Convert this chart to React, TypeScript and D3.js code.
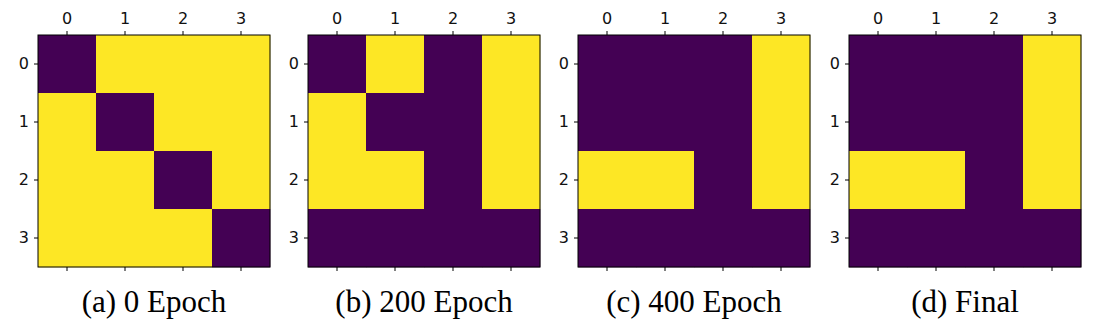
import React, { useRef, useEffect } from 'react'
import * as d3 from 'd3'

const indices = [0, 1, 2, 3]
const captions = ['(a) 0 Epoch', '(b) 200 Epoch', '(c) 400 Epoch', '(d) Final']

const epoch0 = [
  [0, 1, 1, 1],
  [1, 0, 1, 1],
  [1, 1, 0, 1],
  [1, 1, 1, 0],
]
const epoch200 = [
  [0, 1, 0, 1],
  [1, 0, 0, 1],
  [1, 1, 0, 1],
  [0, 0, 0, 0],
]
const epoch400 = [
  [0, 0, 0, 1],
  [0, 0, 0, 1],
  [1, 1, 0, 1],
  [0, 0, 0, 0],
]
const final = [
  [0, 0, 0, 1],
  [0, 0, 0, 1],
  [1, 1, 0, 1],
  [0, 0, 0, 0],
]
const matrices = [epoch0, epoch200, epoch400, final]

const App = () => {
  const svgRef = useRef<SVGSVGElement>(null)

  useEffect(() => {
    const svg = d3.select(svgRef.current)
    svg.selectAll('*').remove()

    const size = 232
    const top = 35
    const lefts = [38, 308, 578, 849]
    const font = 'DejaVu Sans'

    const color = d3.scaleSequential(d3.interpolateViridis).domain([0, 1])

    matrices.forEach((m, i) => {
      const g = svg.append('g').attr('transform', `translate(${lefts[i]},${top})`)

      const x = d3.scaleBand<number>().domain(indices).range([0, size])
      const y = d3.scaleBand<number>().domain(indices).range([0, size])

      // cells
      m.forEach((row, r) => {
        g.selectAll(null)
          .data(row)
          .enter().append('rect')
          .attr('x', (_, c) => x(c)!)
          .attr('y', y(r)!)
          .attr('width', x.bandwidth() + 0.3)
          .attr('height', y.bandwidth() + 0.3)
          .attr('fill', d => color(d))
      })

      // top axis with labels
      g.append('g')
        .call(d3.axisTop(x).tickSize(4).tickPadding(7))
        .attr('font-size', 16)
        .attr('font-family', font)
        .call(a => a.select('.domain').remove())

      // bottom axis, ticks only
      g.append('g')
        .attr('transform', `translate(0,${size})`)
        .call(d3.axisBottom(x).tickSize(4).tickFormat(() => ''))
        .call(a => a.select('.domain').remove())

      // left axis
      g.append('g')
        .call(d3.axisLeft(y).tickSize(4).tickPadding(5))
        .attr('font-size', 16)
        .attr('font-family', font)
        .call(a => a.select('.domain').remove())

      g.selectAll('.tick line').attr('stroke', '#000').attr('stroke-width', 1)
      g.selectAll('.tick text').attr('fill', '#111')

      // frame
      g.append('rect')
        .attr('width', size)
        .attr('height', size)
        .attr('fill', 'none')
        .attr('stroke', '#000')
        .attr('stroke-width', 1)

      svg.append('text')
        .attr('x', lefts[i] + size / 2)
        .attr('y', 312)
        .attr('text-anchor', 'middle')
        .attr('font-family', 'Liberation Serif, Times New Roman, serif')
        .attr('font-size', 31)
        .text(captions[i])
    })
  }, [])

  return (
    <div>
      <svg ref={svgRef} width={1100} height={328} style={{ position: 'absolute', left: 0, top: 0 }}></svg>
    </div>
  )
}

export default App
